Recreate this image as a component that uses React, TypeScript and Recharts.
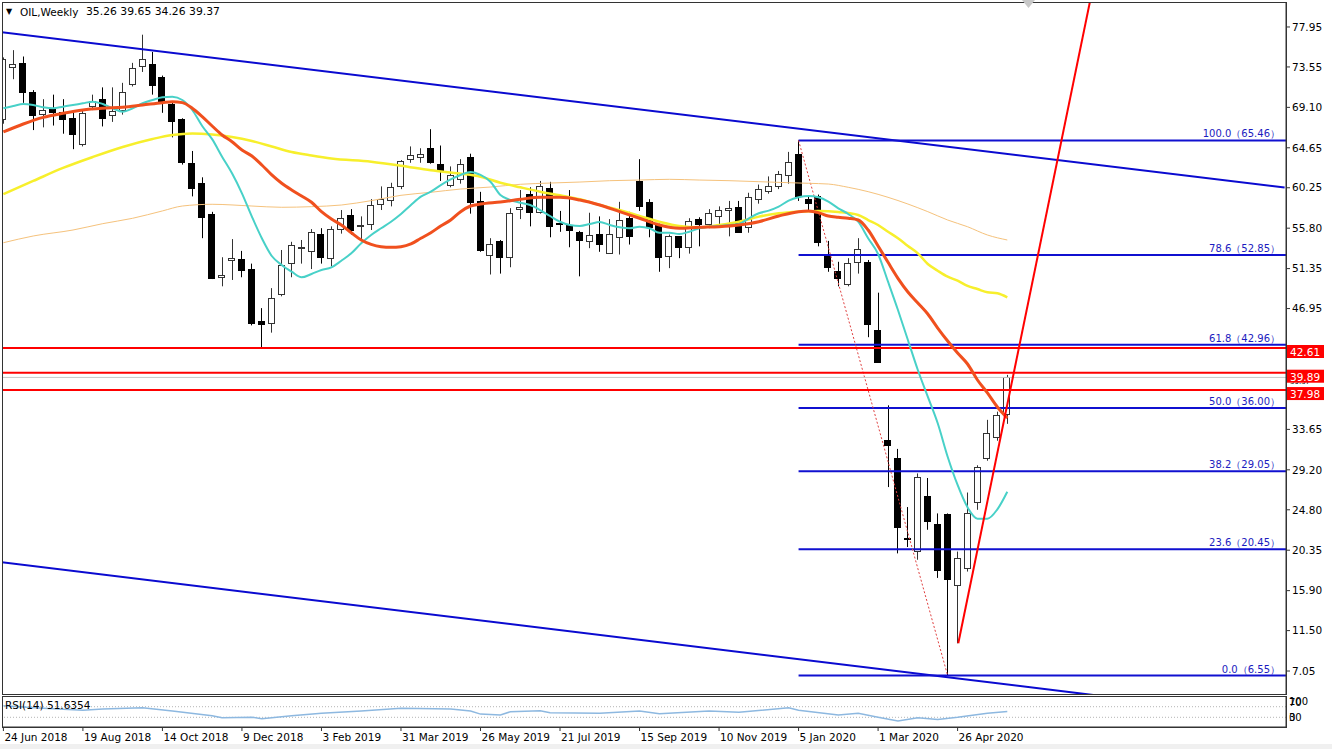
import React from 'react';
import { ComposedChart, Bar, Line, XAxis, YAxis, ReferenceLine } from 'recharts';

const FONT = '"DejaVu Sans", Verdana, sans-serif';

// weekly OHLC, 24 Jun 2018 .. 31 May 2020
const opens = [
  67.8, 73.6, 74.0, 70.8, 68.4, 69.0, 68.6, 67.9, 65.1, 69.2,
  70.0, 68.3, 68.8, 71.6, 73.6, 73.9, 72.4, 69.5, 67.8, 63.0,
  60.8, 57.4, 50.5, 52.3, 52.4, 51.3, 45.6, 45.4, 48.6, 51.9,
  53.6, 53.3, 55.2, 52.5, 55.7, 57.3, 56.0, 56.2, 58.4, 58.9,
  60.4, 63.5, 63.7, 64.6, 62.9, 60.6, 61.3, 63.6, 58.8, 52.9,
  54.4, 52.7, 57.9, 59.6, 57.5, 60.2, 56.4, 56.2, 55.4, 54.3,
  55.2, 53.1, 54.8, 56.9, 61.0, 58.7, 56.2, 52.7, 54.9, 53.7,
  56.8, 56.3, 57.1, 57.8, 58.1, 55.9, 59.0, 59.8, 60.5, 61.7,
  64.0, 59.0, 59.3, 52.7, 51.1, 49.7, 52.1, 52.1, 44.6, 32.5,
  30.5, 21.7, 20.2, 26.3, 23.2, 24.3, 16.5, 18.5, 25.7, 30.4,
  32.8, 35.26,
];
const highs = [
  74.6, 75.4, 74.7, 71.0, 70.0, 70.5, 70.0, 68.8, 68.8, 70.5,
  71.3, 71.3, 71.8, 74.0, 77.1, 75.2, 72.6, 69.6, 67.9, 64.3,
  61.4, 57.6, 52.6, 54.6, 53.3, 51.9, 47.0, 49.2, 53.4, 54.3,
  54.5, 55.7, 55.8, 56.0, 57.8, 57.9, 57.1, 59.0, 60.4, 60.8,
  63.3, 64.8, 64.6, 66.7, 64.9, 62.6, 63.4, 64.0, 59.8, 54.7,
  54.5, 58.0, 60.0, 60.3, 61.0, 60.9, 57.7, 60.0, 55.5, 57.5,
  57.1, 56.8, 58.7, 57.6, 63.4, 59.0, 56.3, 55.1, 54.9, 56.9,
  57.0, 57.9, 58.2, 58.8, 58.8, 59.7, 60.6, 61.5, 62.1, 64.2,
  65.46, 59.3, 59.5, 54.4, 52.1, 52.5, 54.7, 52.3, 48.7, 36.3,
  31.5, 25.1, 28.8, 28.3, 24.4, 24.4, 20.2, 26.7, 29.7, 34.7,
  35.6, 39.65,
];
const lows = [
  67.3, 72.2, 69.6, 66.6, 66.9, 67.1, 66.2, 64.5, 64.8, 68.8,
  67.0, 67.5, 68.3, 71.4, 73.0, 70.5, 68.5, 65.8, 62.8, 59.3,
  54.7, 50.2, 49.4, 50.1, 50.4, 45.1, 42.6, 44.3, 48.3, 50.4,
  51.9, 51.3, 51.9, 51.6, 55.2, 55.1, 54.5, 55.6, 57.8, 58.2,
  60.1, 63.0, 63.0, 62.9, 61.0, 60.3, 60.7, 57.4, 53.2, 50.7,
  50.8, 51.5, 56.8, 56.0, 57.4, 54.8, 55.4, 53.7, 50.5, 53.6,
  53.2, 53.1, 52.9, 54.0, 57.7, 54.8, 51.0, 51.4, 52.5, 53.0,
  53.8, 55.8, 55.9, 54.9, 55.3, 55.3, 58.5, 59.6, 60.1, 60.7,
  58.8, 57.8, 53.8, 51.0, 49.4, 49.4, 50.8, 43.8, 41.0, 27.3,
  20.0, 20.7, 19.3, 22.6, 17.3, 6.55, 10.1, 18.0, 24.8, 30.2,
  32.4, 34.26,
];
const closes = [
  74.4, 73.9, 70.8, 68.3, 68.8, 68.6, 67.8, 66.1, 68.5, 69.8,
  67.9, 68.7, 70.8, 73.4, 74.4, 71.6, 69.7, 67.6, 63.1, 60.3,
  57.1, 50.4, 50.7, 52.5, 51.2, 45.4, 45.3, 48.1, 51.8, 53.9,
  53.7, 55.4, 52.7, 55.7, 56.9, 55.7, 56.1, 58.3, 59.0, 60.3,
  63.2, 63.9, 64.0, 63.1, 62.1, 61.7, 62.9, 58.7, 53.4, 54.1,
  52.6, 57.5, 58.1, 57.6, 60.4, 56.0, 56.3, 55.7, 54.5, 55.0,
  54.1, 55.2, 56.7, 54.9, 58.3, 56.0, 52.7, 54.9, 53.7, 56.6,
  56.2, 57.5, 57.8, 58.0, 55.4, 59.2, 60.1, 60.4, 61.8, 63.1,
  59.4, 58.6, 54.2, 51.5, 50.3, 52.0, 53.5, 45.3, 41.1, 31.9,
  22.9, 21.6, 28.4, 23.5, 18.1, 17.1, 19.5, 24.5, 29.5, 33.2,
  35.2, 39.37,
];

// moving averages
const maFast = [
  69.0, 69.25, 69.47, 69.36, 69.11, 69.0, 69.18, 69.36, 69.55, 69.73,
  69.47, 69.0, 68.63, 69.0, 69.55, 69.91, 70.21, 70.28, 69.91, 68.81,
  67.05, 65.6, 63.67, 61.84, 59.64, 57.07, 54.69, 52.74, 51.75, 51.01,
  50.39, 50.76, 51.2, 51.49, 52.22, 53.03, 54.14, 55.05, 55.79, 56.51,
  57.36, 58.35, 59.27, 59.82, 60.55, 61.18, 61.66, 61.99, 61.66, 60.92,
  59.45, 58.9, 58.61, 58.35, 57.8, 57.14, 56.51, 56.15, 56.04, 56.26,
  56.48, 56.15, 55.9, 55.79, 55.97, 55.79, 55.3, 55.3, 55.16, 55.41,
  55.79, 55.97, 56.04, 56.15, 56.26, 56.89, 57.44, 57.73, 58.17, 58.83,
  59.2, 59.34, 59.2, 58.72, 57.99, 57.36, 56.51, 54.69, 52.96, 49.91,
  46.79, 43.49, 40.19, 37.25, 34.32, 30.64, 27.53, 25.07, 23.82, 23.82,
  24.85, 26.79,
];
const maMid: [number, number][] = [
  [0, 66.39], [2, 67.27], [4, 68.0], [6, 68.45], [8, 68.81], [10, 69.0], [12, 69.11], [14, 69.36],
  [16, 69.62], [17, 69.73], [18, 69.62], [19, 69.0], [20, 68.08], [21, 67.05], [22, 66.06], [23, 65.32],
  [24, 64.41], [25, 63.75], [26, 62.76], [27, 61.66], [28, 60.74], [29, 60.0], [30, 59.34], [31, 58.65],
  [32, 57.62], [33, 56.81], [34, 56.15], [35, 55.3], [36, 54.5], [37, 54.02], [38, 53.76], [39, 53.69],
  [40, 53.76], [41, 54.06], [42, 54.69], [43, 55.3], [44, 56.04], [45, 56.7], [46, 57.62], [47, 58.24],
  [48, 58.46], [50, 58.68], [52, 58.98], [54, 59.2], [56, 59.2], [58, 58.9], [60, 58.35], [62, 57.62],
  [64, 56.89], [66, 56.15], [68, 55.79], [70, 55.9], [72, 55.97], [74, 56.15], [76, 56.51], [78, 57.14],
  [80, 57.62], [81, 57.69], [82, 57.51], [83, 57.14], [84, 57.0], [85, 56.89], [86, 56.7], [87, 55.6],
  [88, 53.84], [89, 52.04], [90, 50.28], [91, 48.77], [92, 47.56], [93, 46.35], [94, 44.81], [95, 43.38],
  [96, 42.06], [97, 40.85], [98, 39.09], [99, 37.66], [100, 36.11], [101, 34.9],
];
const maSlow: [number, number][] = [
  [0, 59.56], [3, 61.0], [6, 62.43], [9, 63.64], [12, 64.74], [15, 65.62], [17, 66.06], [19, 66.23],
  [21, 66.12], [23, 65.84], [25, 65.4], [27, 64.8], [29, 64.19], [31, 63.8], [33, 63.47], [37, 63.12],
  [40, 62.68], [43, 62.17], [46, 61.8], [48, 61.47], [50, 60.81], [52, 60.3], [54, 59.82], [56, 59.42],
  [58, 58.98], [60, 58.35], [62, 57.8], [64, 57.14], [66, 56.51], [68, 56.04], [70, 55.9], [72, 56.15],
  [74, 56.51], [76, 57.07], [78, 57.44], [80, 57.62], [82, 57.69], [84, 57.58], [86, 57.25], [87, 56.7],
  [88, 56.15], [89, 55.41], [90, 54.69], [91, 53.84], [92, 53.03], [93, 51.86], [94, 51.12], [95, 50.46],
  [96, 50.02], [97, 49.44], [98, 49.1], [99, 48.74], [100, 48.63], [101, 48.19],
];
const maSlowest: [number, number][] = [
  [0, 54.2], [3, 54.94], [7, 55.6], [10, 56.3], [13, 56.89], [16, 57.7], [18, 58.24], [21, 58.43],
  [25, 58.24], [28, 58.1], [31, 58.17], [34, 58.35], [37, 58.83], [40, 59.42], [43, 59.75], [46, 60.11],
  [49, 60.33], [52, 60.63], [55, 60.77], [58, 60.88], [61, 61.03], [64, 61.1], [67, 61.18], [70, 61.1],
  [73, 61.03], [76, 60.92], [79, 60.81], [81, 60.74], [83, 60.66], [85, 60.3], [87, 59.82], [89, 59.2],
  [91, 58.46], [93, 57.62], [95, 56.7], [97, 55.96], [99, 55.05], [101, 54.5],
];
const rsiPts: [number, number][] = [
  [0, 74], [4, 64], [8, 57], [10, 61], [14, 66], [17, 54], [21, 36], [22, 28], [25, 30], [26, 25],
  [29, 36], [32, 45], [36, 54], [40, 64], [45, 61], [47, 54], [48, 42], [50, 39], [51, 51], [54, 55],
  [55, 47], [60, 45], [64, 54], [66, 43], [71, 54], [74, 49], [79, 66], [80, 57], [84, 39], [86, 45],
  [88, 30], [90, 16], [92, 28], [94, 22], [96, 30], [99, 45], [101, 51.6],
];

const dateTicks = [0, 8, 16, 24, 32, 40, 48, 56, 64, 72, 80, 88, 96];
const dateLabels = [
  '24 Jun 2018', '19 Aug 2018', '14 Oct 2018', '9 Dec 2018', '3 Feb 2019', '31 Mar 2019', '26 May 2019',
  '21 Jul 2019', '15 Sep 2019', '10 Nov 2019', '5 Jan 2020', '1 Mar 2020', '26 Apr 2020',
];
const priceTicks = [77.95, 73.55, 69.1, 64.65, 60.25, 55.8, 51.35, 46.95, 33.65, 29.2, 24.8, 20.35, 15.9, 11.5, 7.05];

const redLevels = [42.61, 39.89, 37.98];
const lastPrice = 39.37;
const fibLevels = [
  { pct: '100.0', price: 65.46 },
  { pct: '78.6', price: 52.85 },
  { pct: '61.8', price: 42.96 },
  { pct: '50.0', price: 36.0 },
  { pct: '38.2', price: 29.05 },
  { pct: '23.6', price: 20.45 },
  { pct: '0.0', price: 6.55 },
];
const fibFrom = 80; // week of the 65.46 high
const fibTo = 95; // week of the 6.55 low
const channelTop = [[-0.34, 77.4], [128.9, 60.28]];
const channelBottom = [[-0.34, 19.05], [128.9, 1.85]];
const trendUp = [[96.07, 10.1], [109.35, 80.92]];

const X_DOMAIN: [number, number] = [-0.141, 129.04];
const P_DOMAIN: [number, number] = [4.52, 80.7];

const pick = (pts: [number, number][], i: number) => {
  const f = pts.find((p) => p[0] === i);
  return f ? f[1] : null;
};

const data = opens.map((o, i) => ({
  i,
  o,
  h: highs[i],
  l: lows[i],
  c: closes[i],
  range: [lows[i], highs[i]],
  fast: maFast[i],
  mid: pick(maMid, i),
  slow: pick(maSlow, i),
  slowest: pick(maSlowest, i),
  rsi: pick(rsiPts, i),
}));

function Candle(props: any) {
  const { x, y, width, height, payload } = props;
  if (x == null || !payload) return null;
  const top = height >= 0 ? y : y + height;
  const span = Math.abs(height);
  const k = span / Math.max(payload.h - payload.l, 1e-6);
  const yo = top + (payload.h - payload.o) * k;
  const yc = top + (payload.h - payload.c) * k;
  const cx = Math.round(x + width / 2) + 0.5;
  const bx = Math.round(x) + 0.5;
  const bw = Math.round(width) - 1;
  const bt = Math.round(Math.min(yo, yc)) + 0.5;
  const bh = Math.max(Math.round(Math.abs(yo - yc)), 1);
  const up = payload.c >= payload.o;
  return (
    <g>
      <line x1={cx} x2={cx} y1={top} y2={top + span} stroke={up ? '#333' : '#000'} strokeWidth={1} />
      <rect x={bx} y={bt} width={bw} height={bh} fill={up ? '#fff' : '#000'} stroke={up ? '#333' : '#000'} strokeWidth={1} />
    </g>
  );
}

const fibLabel = (txt: string) => (p: any) => {
  const vb = p.viewBox || {};
  return (
    <text x={vb.x + vb.width - 6} y={vb.y - 3} textAnchor="end" fill="#1c1cc0" fontSize={10} fontFamily={FONT}>
      {txt}
    </text>
  );
};

const redTag = (v: number) => (p: any) => {
  const vb = p.viewBox || {};
  const x = vb.x + vb.width + 1;
  return (
    <g>
      <rect x={x} y={vb.y - 3} width={37} height={13} fill="#ff0000" />
      <text x={x + 3} y={vb.y + 8} fill="#fff" fontSize={10.5} fontFamily={FONT}>
        {v.toFixed(2)}
      </text>
    </g>
  );
};

// current price tag sits behind the red tags, only a sliver shows
const lastTag = (p: any) => {
  const vb = p.viewBox || {};
  return (
    <text x={vb.x + vb.width + 4} y={vb.y + 7} fill="#000" fontSize={7} fontFamily={FONT}>
      {lastPrice.toFixed(2)}
    </text>
  );
};

const DateTick = (props: any) => {
  const { x, y, payload } = props;
  const idx = dateTicks.indexOf(payload.value);
  return (
    <text x={x + 1} y={y + 8} fill="#000" fontSize={10.5} fontFamily={FONT} textAnchor="start">
      {dateLabels[idx]}
    </text>
  );
};

const seg = (pts: number[][]) => [
  { x: pts[0][0], y: pts[0][1] },
  { x: pts[1][0], y: pts[1][1] },
];

const txt: React.CSSProperties = { position: 'absolute', fontFamily: FONT, fontSize: 10, color: '#000', whiteSpace: 'pre', lineHeight: '12px' };

export default function App() {
  return (
    <div style={{ position: 'relative', width: 1332, height: 749, background: '#fff', overflow: 'hidden' }}>
      <style>{`body{margin:0}`}</style>

      <div style={{ position: 'absolute', left: 0, top: 0 }}>
        <ComposedChart width={1332} height={694} data={data} margin={{ top: 2, right: 0, left: 2, bottom: 0 }}>
          <XAxis type="number" dataKey="i" domain={X_DOMAIN} allowDataOverflow hide />
          <YAxis
            orientation="right"
            width={46}
            domain={P_DOMAIN}
            allowDataOverflow
            ticks={priceTicks}
            interval={0}
            tickSize={4}
            tickMargin={2}
            tick={{ fontSize: 10.5, fill: '#000', fontFamily: FONT }}
            tickFormatter={(v: number) => v.toFixed(2)}
            axisLine={{ stroke: '#333' }}
            tickLine={{ stroke: '#333' }}
          />
          <ReferenceLine segment={seg(channelTop)} stroke="#0a0ad0" strokeWidth={2} ifOverflow="hidden" />
          <ReferenceLine segment={seg(channelBottom)} stroke="#0a0ad0" strokeWidth={2} ifOverflow="hidden" />
          {fibLevels.map((f) => (
            <ReferenceLine
              key={f.pct}
              segment={[{ x: fibFrom, y: f.price }, { x: X_DOMAIN[1], y: f.price }]}
              stroke="#1010d0"
              strokeWidth={2}
              ifOverflow="visible"
              label={fibLabel(`${f.pct}（${f.price.toFixed(2)}）`)}
            />
          ))}
          <ReferenceLine
            segment={[{ x: fibFrom, y: fibLevels[0].price }, { x: fibTo, y: fibLevels[6].price }]}
            stroke="#e04040"
            strokeDasharray="2 2"
            strokeWidth={1}
            ifOverflow="visible"
          />
          <ReferenceLine y={lastPrice} stroke="#c8c8c8" strokeWidth={1} label={lastTag} />
          {redLevels.map((v) => (
            <ReferenceLine key={v} y={v} stroke="#ff0000" strokeWidth={2} label={redTag(v)} />
          ))}
          <Bar dataKey="range" barSize={7} shape={(p: any) => <Candle {...p} />} isAnimationActive={false} />
          <Line dataKey="slowest" type="monotone" connectNulls dot={false} stroke="#f5c27c" strokeWidth={1} isAnimationActive={false} />
          <Line dataKey="slow" type="monotone" connectNulls dot={false} stroke="#f7ef2c" strokeWidth={2.5} isAnimationActive={false} />
          <Line dataKey="fast" type="monotone" connectNulls dot={false} stroke="#48d1c8" strokeWidth={2} isAnimationActive={false} />
          <Line dataKey="mid" type="monotone" connectNulls dot={false} stroke="#f0501e" strokeWidth={3} isAnimationActive={false} />
          <ReferenceLine segment={seg(trendUp)} stroke="#ff0000" strokeWidth={2} ifOverflow="hidden" />
        </ComposedChart>
      </div>

      <div style={{ position: 'absolute', left: 0, top: 694 }}>
        <ComposedChart width={1332} height={55} data={data} margin={{ top: 2, right: 0, left: 2, bottom: 0 }}>
          <XAxis
            type="number"
            dataKey="i"
            domain={X_DOMAIN}
            allowDataOverflow
            ticks={dateTicks}
            interval={0}
            height={22}
            tickSize={4}
            tick={<DateTick />}
            axisLine={{ stroke: '#333' }}
            tickLine={{ stroke: '#333' }}
          />
          <YAxis orientation="right" width={46} domain={[-6.6, 110.4]} allowDataOverflow ticks={[]} tick={false} axisLine={{ stroke: '#333' }} />
          <ReferenceLine y={70} stroke="#b4b4b4" strokeDasharray="1 2" />
          <ReferenceLine y={30} stroke="#b4b4b4" strokeDasharray="1 2" />
          <Line dataKey="rsi" type="linear" connectNulls dot={false} stroke="#8db8e0" strokeWidth={1.5} isAnimationActive={false} />
        </ComposedChart>
      </div>

      {/* panel frames */}
      <div style={{ position: 'absolute', left: 2, top: 2, width: 1285, height: 693, border: '1px solid #333', boxSizing: 'border-box', pointerEvents: 'none' }} />
      <div style={{ position: 'absolute', left: 2, top: 696, width: 1285, height: 32, border: '1px solid #333', boxSizing: 'border-box', pointerEvents: 'none' }} />
      <div style={{ position: 'absolute', left: 0, top: 744, width: 1332, height: 5, background: '#f0f0f0' }} />

      {/* header */}
      <div style={{ ...txt, left: 6, top: 6, fontSize: 8 }}>▼</div>
      <div style={{ ...txt, left: 20, top: 6, fontSize: 10.5 }}>OIL,Weekly</div>
      <div style={{ ...txt, left: 86, top: 6, fontSize: 10.8 }}>35.26 39.65 34.26 39.37</div>
      <svg style={{ position: 'absolute', left: 1022, top: 0 }} width={14} height={9}>
        <polygon points="0,0 13,0 6.5,8" fill="#c8c8c8" />
      </svg>

      {/* RSI panel texts (the scale labels overlap in the original) */}
      <div style={{ ...txt, left: 5, top: 699, fontSize: 10.5 }}>RSI(14) 51.6354</div>
      <div style={{ ...txt, left: 1289, top: 696 }}>100</div>
      <div style={{ ...txt, left: 1289, top: 697 }}>70</div>
      <div style={{ ...txt, left: 1289, top: 712 }}>30</div>
      <div style={{ ...txt, left: 1289, top: 712 }}>0</div>
    </div>
  );
}
